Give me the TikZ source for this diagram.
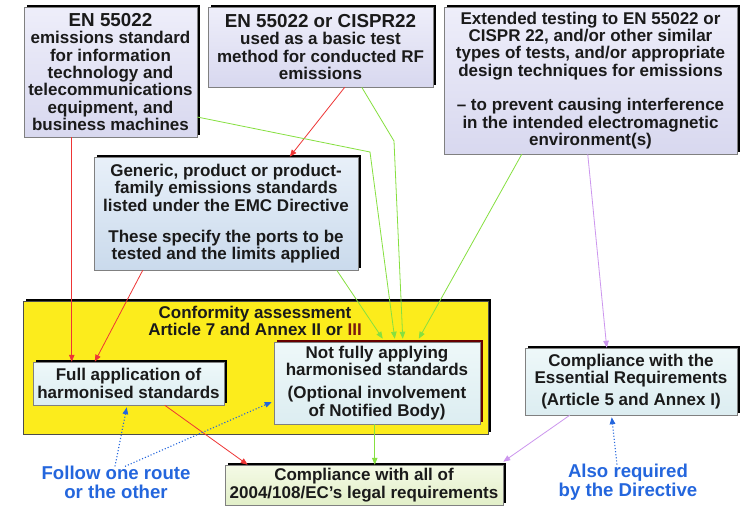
\documentclass[tikz,border=0pt]{standalone}
\usepackage{fontspec}
\setmainfont{Liberation Sans}
\usetikzlibrary{arrows.meta,shadows,calc}
\definecolor{lavT}{HTML}{EEEEFA}
\definecolor{lavB}{HTML}{D8D8EF}
\definecolor{genT}{HTML}{E8F0F9}
\definecolor{genB}{HTML}{CADAEC}
\definecolor{cyT}{HTML}{EEF8F9}
\definecolor{cyB}{HTML}{DCEDF1}
\definecolor{grT}{HTML}{F4FAE6}
\definecolor{grB}{HTML}{E2EFC8}
\definecolor{yel}{HTML}{FCEC1C}
\definecolor{redA}{HTML}{EE3535}
\definecolor{grnA}{HTML}{86E040}
\definecolor{purA}{HTML}{CC96EE}
\definecolor{bluA}{HTML}{2466DD}
\definecolor{txt}{HTML}{1A1A1A}
\definecolor{maroon}{HTML}{7A1A10}
\newcommand\bodyf{\fontsize{17}{17.4}\selectfont\bfseries}
\newcommand\titlef{\fontsize{18.8}{17.4}\selectfont}
\newcommand\labf{\fontsize{18.6}{19.2}\selectfont\bfseries}
\tikzset{
  box/.style={draw=black!50, line width=0.5pt, align=center, inner sep=0pt,
    text=txt, font=\bodyf,
    drop shadow={shadow xshift=2.5pt, shadow yshift=2.5pt, fill=black, opacity=1}},
  lav/.style={top color=lavT, bottom color=lavB},
  genc/.style={top color=genT, bottom color=genB},
  cyc/.style={top color=cyT, bottom color=cyB},
  grc/.style={top color=grT, bottom color=grB},
  tipA/.style={-{Triangle[length=7pt,width=5.5pt]}},
  redarr/.style={tipA, draw=redA, line width=0.8pt},
  grnarr/.style={tipA, draw=grnA, line width=0.8pt},
  purarr/.style={tipA, draw=purA, line width=0.8pt},
  bluarr/.style={-{Triangle[length=7pt,width=5.5pt,fill=bluA]}, draw=bluA, line width=1.1pt, dotted},
  lab/.style={align=center, inner sep=0pt, text=bluA, font=\labf}
}
\begin{document}
\begin{tikzpicture}[x=1pt,y=-1pt]
\useasboundingbox[fill=white] (0,0) rectangle (740,506);

% yellow conformity area
\node[draw=black!70, line width=0.5pt, fill=yel, minimum width=465pt, minimum height=133pt,
  inner sep=0pt, drop shadow={shadow xshift=2.5pt, shadow yshift=2.5pt, fill=black, opacity=1}]
  (yel) at (255.5,367.5) {};
\node[align=center, inner sep=0pt, text=txt, font=\bodyf] (ytitle) at (255,321)
  {Conformity assessment\\Article 7 and Annex II or \textcolor{maroon}{III}};

% top boxes
\node[box, lav, minimum width=173pt, minimum height=130pt] (b1) at (110.5,72)
  {{\titlef EN 55022}\\emissions standard\\for information\\technology and\\telecommunications\\equipment, and\\business machines};
\node[box, lav, minimum width=225pt, minimum height=80pt] (b2) at (320.5,47)
  {{\titlef EN 55022 or CISPR22}\\used as a basic test\\method for conducted RF\\emissions};
\node[box, lav, minimum width=293pt, minimum height=147pt] (b3) at (590.5,80.5)
  {Extended testing to EN 55022 or\\CISPR 22, and/or other similar\\types of tests, and/or appropriate\\design techniques for emissions\\[17pt]– to prevent causing interference\\in the intended electromagnetic\\environment(s)};
\node[box, genc, minimum width=264pt, minimum height=113pt] (gen) at (226,213.5)
  {Generic, product or product-\\family emissions standards\\listed under the EMC Directive\\[13.5pt]These specify the ports to be\\tested and the limits applied};

% inner boxes
\node[box, cyc, minimum width=191pt, minimum height=43pt] (full) at (128.5,383.5)
  {Full application of\\harmonised standards};
\node[box, cyc, minimum width=206pt, minimum height=82pt,
  drop shadow={shadow xshift=2.5pt, shadow yshift=2.5pt, fill=black!60!red, opacity=1}] (notf) at (377,383)
  {Not fully applying\\harmonised standards\\[5.5pt](Optional involvement\\of Notified Body)};
\node[box, cyc, minimum width=212pt, minimum height=67pt] (er) at (631,381.5)
  {Compliance with the\\Essential Requirements\\[4.5pt](Article 5 and Annex I)};
\node[box, grc, minimum width=278pt, minimum height=40pt] (bot) at (364,485)
  {Compliance with all of\\2004/108/EC’s legal requirements};

% blue labels
\node[lab] (lab1) at (116,482) {Follow one route\\or the other};
\node[lab] (lab2) at (628,482) {Also required\\by the Directive};

% bend points
\coordinate (k1) at (370,152);
\coordinate (k2) at (394,141);

% red connectors
\draw[redarr] ([xshift=48pt]b1.south west) -- ([xshift=39pt]full.north west);
\draw[redarr] ([xshift=137pt]b2.south west) -- ([xshift=196pt]gen.north west);
\draw[redarr] ([xshift=49pt]gen.south west) -- ([xshift=62pt]full.north west);
\draw[redarr] ([xshift=132pt]full.south west) -- ([xshift=23pt]bot.north west);

% green connectors
\draw[grnarr] ([yshift=-45pt]b1.east) -- (k1) -- ([xshift=121pt,yshift=3pt]notf.north west);
\draw[grnarr] ([xshift=154pt]b2.south west) -- (k2) -- ([xshift=129pt,yshift=3pt]notf.north west);
\draw[grnarr] ([xshift=243pt]gen.south west) -- ([xshift=109pt,yshift=3pt]notf.north west);
\draw[grnarr] ([xshift=78pt]b3.south west) -- ([xshift=145pt,yshift=3pt]notf.north west);
\draw[grnarr] ([xshift=101pt]notf.south west) -- ([xshift=150pt]bot.north west);

% purple connectors
\draw[purarr] ([xshift=144pt]b3.south west) -- ([xshift=82pt]er.north west);
\draw[purarr] ([xshift=45pt]er.south west) -- ([yshift=3pt]bot.north east);

% blue dotted connectors
\draw[bluarr] ([xshift=-1pt,yshift=-1pt]lab1.north) -- ([xshift=94pt,yshift=-2pt]full.south west);
\draw[bluarr] ([xshift=9pt,yshift=-1pt]lab1.north) -- ([yshift=-19pt,xshift=-2pt]notf.west);
\draw[bluarr] ([xshift=-11pt,yshift=-1pt]lab2.north) -- ([xshift=87pt,yshift=-2pt]er.south west);
\end{tikzpicture}
\end{document}
